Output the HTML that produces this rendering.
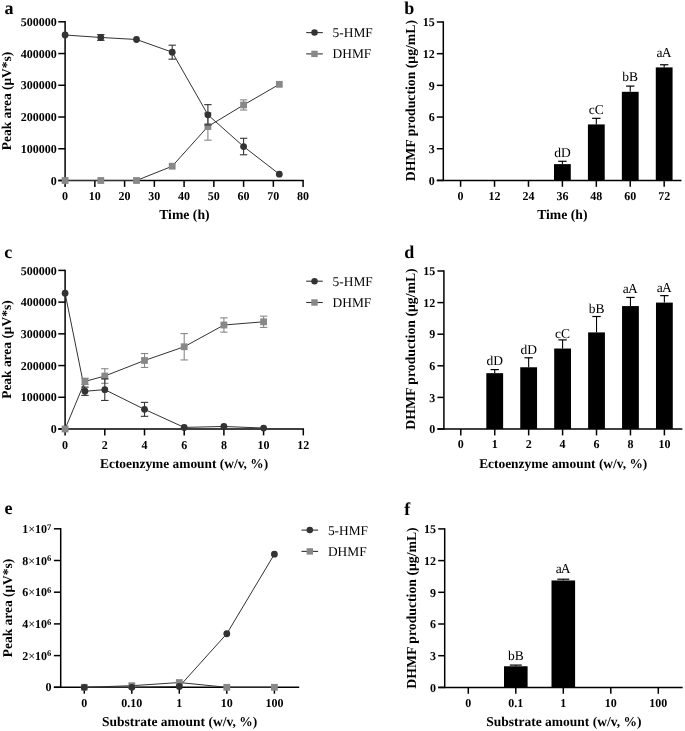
<!DOCTYPE html>
<html><head><meta charset="utf-8"><style>
html,body{margin:0;padding:0;background:#fff;}
body{width:685px;height:731px;overflow:hidden;}
svg{display:block;will-change:transform;font-family:"Liberation Serif", serif;}
text{fill:#000;text-rendering:geometricPrecision;}
</style></head><body>
<svg width="685" height="731" viewBox="0 0 685 731">
<rect width="685" height="731" fill="#fff"/>
<line x1="65.10" y1="21.10" x2="65.10" y2="181.20" stroke="#000" stroke-width="1.5"/>
<line x1="58.30" y1="180.50" x2="303.80" y2="180.50" stroke="#000" stroke-width="1.5"/>
<line x1="58.30" y1="180.50" x2="65.10" y2="180.50" stroke="#000" stroke-width="1.5"/>
<text x="56.70" y="184.50" font-size="12" font-weight="bold" text-anchor="end">0</text>
<line x1="58.30" y1="148.76" x2="65.10" y2="148.76" stroke="#000" stroke-width="1.5"/>
<text x="56.70" y="152.76" font-size="12" font-weight="bold" text-anchor="end">100000</text>
<line x1="58.30" y1="117.02" x2="65.10" y2="117.02" stroke="#000" stroke-width="1.5"/>
<text x="56.70" y="121.02" font-size="12" font-weight="bold" text-anchor="end">200000</text>
<line x1="58.30" y1="85.28" x2="65.10" y2="85.28" stroke="#000" stroke-width="1.5"/>
<text x="56.70" y="89.28" font-size="12" font-weight="bold" text-anchor="end">300000</text>
<line x1="58.30" y1="53.54" x2="65.10" y2="53.54" stroke="#000" stroke-width="1.5"/>
<text x="56.70" y="57.54" font-size="12" font-weight="bold" text-anchor="end">400000</text>
<line x1="58.30" y1="21.80" x2="65.10" y2="21.80" stroke="#000" stroke-width="1.5"/>
<text x="56.70" y="25.80" font-size="12" font-weight="bold" text-anchor="end">500000</text>
<line x1="65.10" y1="180.50" x2="65.10" y2="186.90" stroke="#000" stroke-width="1.5"/>
<text x="65.10" y="199.90" font-size="12" font-weight="bold" text-anchor="middle" >0</text>
<line x1="94.85" y1="180.50" x2="94.85" y2="186.90" stroke="#000" stroke-width="1.5"/>
<text x="94.85" y="199.90" font-size="12" font-weight="bold" text-anchor="middle" >10</text>
<line x1="124.60" y1="180.50" x2="124.60" y2="186.90" stroke="#000" stroke-width="1.5"/>
<text x="124.60" y="199.90" font-size="12" font-weight="bold" text-anchor="middle" >20</text>
<line x1="154.35" y1="180.50" x2="154.35" y2="186.90" stroke="#000" stroke-width="1.5"/>
<text x="154.35" y="199.90" font-size="12" font-weight="bold" text-anchor="middle" >30</text>
<line x1="184.10" y1="180.50" x2="184.10" y2="186.90" stroke="#000" stroke-width="1.5"/>
<text x="184.10" y="199.90" font-size="12" font-weight="bold" text-anchor="middle" >40</text>
<line x1="213.85" y1="180.50" x2="213.85" y2="186.90" stroke="#000" stroke-width="1.5"/>
<text x="213.85" y="199.90" font-size="12" font-weight="bold" text-anchor="middle" >50</text>
<line x1="243.60" y1="180.50" x2="243.60" y2="186.90" stroke="#000" stroke-width="1.5"/>
<text x="243.60" y="199.90" font-size="12" font-weight="bold" text-anchor="middle" >60</text>
<line x1="273.35" y1="180.50" x2="273.35" y2="186.90" stroke="#000" stroke-width="1.5"/>
<text x="273.35" y="199.90" font-size="12" font-weight="bold" text-anchor="middle" >70</text>
<line x1="303.10" y1="180.50" x2="303.10" y2="186.90" stroke="#000" stroke-width="1.5"/>
<text x="303.10" y="199.90" font-size="12" font-weight="bold" text-anchor="middle" >80</text>
<text x="184.40" y="218.90" font-size="13.7" font-weight="bold" text-anchor="middle" >Time (h)</text>
<text transform="translate(10.90,101.00) rotate(-90)" x="0" y="0" font-size="13.45" font-weight="bold" text-anchor="middle">Peak area (μV*s)</text>
<text x="4.50" y="13.70" font-size="18" font-weight="bold" text-anchor="start" >a</text>
<polyline points="65.10,35.00 100.80,37.48 136.50,39.48 172.20,52.18 207.90,114.80 243.60,146.54 279.30,174.15" fill="none" stroke="#333333" stroke-width="1"/>
<polyline points="65.10,180.50 100.80,180.50 136.50,180.50 172.20,166.22 207.90,126.54 243.60,104.96 279.30,84.33" fill="none" stroke="#333333" stroke-width="1"/>
<rect x="61.70" y="177.10" width="6.80" height="6.80" fill="#888888"/>
<rect x="97.40" y="177.10" width="6.80" height="6.80" fill="#888888"/>
<rect x="133.10" y="177.10" width="6.80" height="6.80" fill="#888888"/>
<rect x="168.80" y="162.82" width="6.80" height="6.80" fill="#888888"/>
<line x1="207.90" y1="112.89" x2="207.90" y2="140.19" stroke="#888888" stroke-width="1.1"/>
<line x1="204.20" y1="112.89" x2="211.60" y2="112.89" stroke="#888888" stroke-width="1.1"/>
<line x1="204.20" y1="140.19" x2="211.60" y2="140.19" stroke="#888888" stroke-width="1.1"/>
<rect x="204.50" y="123.14" width="6.80" height="6.80" fill="#888888"/>
<line x1="243.60" y1="99.88" x2="243.60" y2="110.04" stroke="#888888" stroke-width="1.1"/>
<line x1="239.90" y1="99.88" x2="247.30" y2="99.88" stroke="#888888" stroke-width="1.1"/>
<line x1="239.90" y1="110.04" x2="247.30" y2="110.04" stroke="#888888" stroke-width="1.1"/>
<rect x="240.20" y="101.56" width="6.80" height="6.80" fill="#888888"/>
<rect x="275.90" y="80.93" width="6.80" height="6.80" fill="#888888"/>
<circle cx="65.10" cy="35.00" r="3.4" fill="#333333"/>
<line x1="100.80" y1="34.62" x2="100.80" y2="40.34" stroke="#333333" stroke-width="1.1"/>
<line x1="97.10" y1="34.62" x2="104.50" y2="34.62" stroke="#333333" stroke-width="1.1"/>
<line x1="97.10" y1="40.34" x2="104.50" y2="40.34" stroke="#333333" stroke-width="1.1"/>
<circle cx="100.80" cy="37.48" r="3.4" fill="#333333"/>
<circle cx="136.50" cy="39.48" r="3.4" fill="#333333"/>
<line x1="172.20" y1="45.19" x2="172.20" y2="59.16" stroke="#333333" stroke-width="1.1"/>
<line x1="168.50" y1="45.19" x2="175.90" y2="45.19" stroke="#333333" stroke-width="1.1"/>
<line x1="168.50" y1="59.16" x2="175.90" y2="59.16" stroke="#333333" stroke-width="1.1"/>
<circle cx="172.20" cy="52.18" r="3.4" fill="#333333"/>
<line x1="207.90" y1="104.64" x2="207.90" y2="124.96" stroke="#333333" stroke-width="1.1"/>
<line x1="204.20" y1="104.64" x2="211.60" y2="104.64" stroke="#333333" stroke-width="1.1"/>
<line x1="204.20" y1="124.96" x2="211.60" y2="124.96" stroke="#333333" stroke-width="1.1"/>
<circle cx="207.90" cy="114.80" r="3.4" fill="#333333"/>
<line x1="243.60" y1="138.29" x2="243.60" y2="154.79" stroke="#333333" stroke-width="1.1"/>
<line x1="239.90" y1="138.29" x2="247.30" y2="138.29" stroke="#333333" stroke-width="1.1"/>
<line x1="239.90" y1="154.79" x2="247.30" y2="154.79" stroke="#333333" stroke-width="1.1"/>
<circle cx="243.60" cy="146.54" r="3.4" fill="#333333"/>
<circle cx="279.30" cy="174.15" r="3.4" fill="#333333"/>
<line x1="306.20" y1="32.60" x2="322.80" y2="32.60" stroke="#333333" stroke-width="1.1"/>
<circle cx="314.50" cy="32.60" r="3.25" fill="#333333"/>
<text x="332.60" y="37.10" font-size="13.4" font-weight="normal" text-anchor="start" >5-HMF</text>
<line x1="306.20" y1="53.90" x2="322.80" y2="53.90" stroke="#333333" stroke-width="1.1"/>
<rect x="311.30" y="50.70" width="6.40" height="6.40" fill="#888888"/>
<text x="332.60" y="58.40" font-size="13.4" font-weight="normal" text-anchor="start" >DHMF</text>
<line x1="65.10" y1="269.70" x2="65.10" y2="429.70" stroke="#000" stroke-width="1.5"/>
<line x1="58.30" y1="429.00" x2="304.00" y2="429.00" stroke="#000" stroke-width="1.5"/>
<line x1="58.30" y1="429.00" x2="65.10" y2="429.00" stroke="#000" stroke-width="1.5"/>
<text x="56.70" y="433.20" font-size="12" font-weight="bold" text-anchor="end">0</text>
<line x1="58.30" y1="397.28" x2="65.10" y2="397.28" stroke="#000" stroke-width="1.5"/>
<text x="56.70" y="401.48" font-size="12" font-weight="bold" text-anchor="end">100000</text>
<line x1="58.30" y1="365.56" x2="65.10" y2="365.56" stroke="#000" stroke-width="1.5"/>
<text x="56.70" y="369.76" font-size="12" font-weight="bold" text-anchor="end">200000</text>
<line x1="58.30" y1="333.84" x2="65.10" y2="333.84" stroke="#000" stroke-width="1.5"/>
<text x="56.70" y="338.04" font-size="12" font-weight="bold" text-anchor="end">300000</text>
<line x1="58.30" y1="302.12" x2="65.10" y2="302.12" stroke="#000" stroke-width="1.5"/>
<text x="56.70" y="306.32" font-size="12" font-weight="bold" text-anchor="end">400000</text>
<line x1="58.30" y1="270.40" x2="65.10" y2="270.40" stroke="#000" stroke-width="1.5"/>
<text x="56.70" y="274.60" font-size="12" font-weight="bold" text-anchor="end">500000</text>
<line x1="65.10" y1="429.00" x2="65.10" y2="435.40" stroke="#000" stroke-width="1.5"/>
<text x="65.10" y="448.70" font-size="12" font-weight="bold" text-anchor="middle" >0</text>
<line x1="104.80" y1="429.00" x2="104.80" y2="435.40" stroke="#000" stroke-width="1.5"/>
<text x="104.80" y="448.70" font-size="12" font-weight="bold" text-anchor="middle" >2</text>
<line x1="144.50" y1="429.00" x2="144.50" y2="435.40" stroke="#000" stroke-width="1.5"/>
<text x="144.50" y="448.70" font-size="12" font-weight="bold" text-anchor="middle" >4</text>
<line x1="184.20" y1="429.00" x2="184.20" y2="435.40" stroke="#000" stroke-width="1.5"/>
<text x="184.20" y="448.70" font-size="12" font-weight="bold" text-anchor="middle" >6</text>
<line x1="223.90" y1="429.00" x2="223.90" y2="435.40" stroke="#000" stroke-width="1.5"/>
<text x="223.90" y="448.70" font-size="12" font-weight="bold" text-anchor="middle" >8</text>
<line x1="263.60" y1="429.00" x2="263.60" y2="435.40" stroke="#000" stroke-width="1.5"/>
<text x="263.60" y="448.70" font-size="12" font-weight="bold" text-anchor="middle" >10</text>
<line x1="303.30" y1="429.00" x2="303.30" y2="435.40" stroke="#000" stroke-width="1.5"/>
<text x="303.30" y="448.70" font-size="12" font-weight="bold" text-anchor="middle" >12</text>
<text x="184.10" y="467.80" font-size="13.4" font-weight="bold" text-anchor="middle" >Ectoenzyme amount (w/v, %)</text>
<text transform="translate(10.90,349.60) rotate(-90)" x="0" y="0" font-size="13.45" font-weight="bold" text-anchor="middle">Peak area (μV*s)</text>
<text x="4.30" y="257.90" font-size="18" font-weight="bold" text-anchor="start" >c</text>
<polyline points="65.10,293.24 84.95,391.25 104.80,389.67 144.50,409.33 184.20,427.41 223.90,426.46 263.60,428.05" fill="none" stroke="#333333" stroke-width="1"/>
<polyline points="65.10,429.00 84.95,381.42 104.80,376.03 144.50,360.48 184.20,346.75 223.90,325.02 263.60,321.79" fill="none" stroke="#333333" stroke-width="1"/>
<rect x="61.70" y="425.60" width="6.80" height="6.80" fill="#888888"/>
<line x1="84.95" y1="378.25" x2="84.95" y2="384.59" stroke="#888888" stroke-width="1.1"/>
<line x1="81.25" y1="378.25" x2="88.65" y2="378.25" stroke="#888888" stroke-width="1.1"/>
<line x1="81.25" y1="384.59" x2="88.65" y2="384.59" stroke="#888888" stroke-width="1.1"/>
<rect x="81.55" y="378.02" width="6.80" height="6.80" fill="#888888"/>
<line x1="104.80" y1="368.73" x2="104.80" y2="383.32" stroke="#888888" stroke-width="1.1"/>
<line x1="101.10" y1="368.73" x2="108.50" y2="368.73" stroke="#888888" stroke-width="1.1"/>
<line x1="101.10" y1="383.32" x2="108.50" y2="383.32" stroke="#888888" stroke-width="1.1"/>
<rect x="101.40" y="372.63" width="6.80" height="6.80" fill="#888888"/>
<line x1="144.50" y1="353.51" x2="144.50" y2="367.46" stroke="#888888" stroke-width="1.1"/>
<line x1="140.80" y1="353.51" x2="148.20" y2="353.51" stroke="#888888" stroke-width="1.1"/>
<line x1="140.80" y1="367.46" x2="148.20" y2="367.46" stroke="#888888" stroke-width="1.1"/>
<rect x="141.10" y="357.08" width="6.80" height="6.80" fill="#888888"/>
<line x1="184.20" y1="333.55" x2="184.20" y2="359.95" stroke="#888888" stroke-width="1.1"/>
<line x1="180.50" y1="333.55" x2="187.90" y2="333.55" stroke="#888888" stroke-width="1.1"/>
<line x1="180.50" y1="359.95" x2="187.90" y2="359.95" stroke="#888888" stroke-width="1.1"/>
<rect x="180.80" y="343.35" width="6.80" height="6.80" fill="#888888"/>
<line x1="223.90" y1="317.88" x2="223.90" y2="332.16" stroke="#888888" stroke-width="1.1"/>
<line x1="220.20" y1="317.88" x2="227.60" y2="317.88" stroke="#888888" stroke-width="1.1"/>
<line x1="220.20" y1="332.16" x2="227.60" y2="332.16" stroke="#888888" stroke-width="1.1"/>
<rect x="220.50" y="321.62" width="6.80" height="6.80" fill="#888888"/>
<line x1="263.60" y1="316.17" x2="263.60" y2="327.40" stroke="#888888" stroke-width="1.1"/>
<line x1="259.90" y1="316.17" x2="267.30" y2="316.17" stroke="#888888" stroke-width="1.1"/>
<line x1="259.90" y1="327.40" x2="267.30" y2="327.40" stroke="#888888" stroke-width="1.1"/>
<rect x="260.20" y="318.39" width="6.80" height="6.80" fill="#888888"/>
<circle cx="65.10" cy="293.24" r="3.4" fill="#333333"/>
<line x1="84.95" y1="387.13" x2="84.95" y2="395.38" stroke="#333333" stroke-width="1.1"/>
<line x1="81.25" y1="387.13" x2="88.65" y2="387.13" stroke="#333333" stroke-width="1.1"/>
<line x1="81.25" y1="395.38" x2="88.65" y2="395.38" stroke="#333333" stroke-width="1.1"/>
<circle cx="84.95" cy="391.25" r="3.4" fill="#333333"/>
<line x1="104.80" y1="378.88" x2="104.80" y2="400.45" stroke="#333333" stroke-width="1.1"/>
<line x1="101.10" y1="378.88" x2="108.50" y2="378.88" stroke="#333333" stroke-width="1.1"/>
<line x1="101.10" y1="400.45" x2="108.50" y2="400.45" stroke="#333333" stroke-width="1.1"/>
<circle cx="104.80" cy="389.67" r="3.4" fill="#333333"/>
<line x1="144.50" y1="402.36" x2="144.50" y2="416.31" stroke="#333333" stroke-width="1.1"/>
<line x1="140.80" y1="402.36" x2="148.20" y2="402.36" stroke="#333333" stroke-width="1.1"/>
<line x1="140.80" y1="416.31" x2="148.20" y2="416.31" stroke="#333333" stroke-width="1.1"/>
<circle cx="144.50" cy="409.33" r="3.4" fill="#333333"/>
<circle cx="184.20" cy="427.41" r="3.4" fill="#333333"/>
<circle cx="223.90" cy="426.46" r="3.4" fill="#333333"/>
<circle cx="263.60" cy="428.05" r="3.4" fill="#333333"/>
<line x1="306.20" y1="281.20" x2="322.80" y2="281.20" stroke="#333333" stroke-width="1.1"/>
<circle cx="314.50" cy="281.20" r="3.25" fill="#333333"/>
<text x="332.60" y="285.70" font-size="13.4" font-weight="normal" text-anchor="start" >5-HMF</text>
<line x1="306.20" y1="302.50" x2="322.80" y2="302.50" stroke="#333333" stroke-width="1.1"/>
<rect x="311.30" y="299.30" width="6.40" height="6.40" fill="#888888"/>
<text x="332.60" y="307.00" font-size="13.4" font-weight="normal" text-anchor="start" >DHMF</text>
<line x1="60.70" y1="528.10" x2="60.70" y2="688.00" stroke="#000" stroke-width="1.5"/>
<line x1="53.90" y1="687.30" x2="299.20" y2="687.30" stroke="#000" stroke-width="1.5"/>
<line x1="53.90" y1="687.30" x2="60.70" y2="687.30" stroke="#000" stroke-width="1.5"/>
<text x="51.40" y="691.30" font-size="12" font-weight="bold" text-anchor="end">0</text>
<line x1="53.90" y1="655.60" x2="60.70" y2="655.60" stroke="#000" stroke-width="1.5"/>
<text x="51.40" y="659.60" font-size="12" font-weight="bold" text-anchor="end">2<tspan font-weight="normal">×</tspan>10<tspan dy="-3.3" font-size="8.6">6</tspan></text>
<line x1="53.90" y1="623.90" x2="60.70" y2="623.90" stroke="#000" stroke-width="1.5"/>
<text x="51.40" y="627.90" font-size="12" font-weight="bold" text-anchor="end">4<tspan font-weight="normal">×</tspan>10<tspan dy="-3.3" font-size="8.6">6</tspan></text>
<line x1="53.90" y1="592.20" x2="60.70" y2="592.20" stroke="#000" stroke-width="1.5"/>
<text x="51.40" y="596.20" font-size="12" font-weight="bold" text-anchor="end">6<tspan font-weight="normal">×</tspan>10<tspan dy="-3.3" font-size="8.6">6</tspan></text>
<line x1="53.90" y1="560.50" x2="60.70" y2="560.50" stroke="#000" stroke-width="1.5"/>
<text x="51.40" y="564.50" font-size="12" font-weight="bold" text-anchor="end">8<tspan font-weight="normal">×</tspan>10<tspan dy="-3.3" font-size="8.6">6</tspan></text>
<line x1="53.90" y1="528.80" x2="60.70" y2="528.80" stroke="#000" stroke-width="1.5"/>
<text x="51.40" y="532.80" font-size="12" font-weight="bold" text-anchor="end">1<tspan font-weight="normal">×</tspan>10<tspan dy="-3.3" font-size="8.6">7</tspan></text>
<line x1="84.30" y1="687.30" x2="84.30" y2="693.70" stroke="#000" stroke-width="1.5"/>
<text x="84.30" y="706.70" font-size="12" font-weight="bold" text-anchor="middle" >0</text>
<line x1="131.80" y1="687.30" x2="131.80" y2="693.70" stroke="#000" stroke-width="1.5"/>
<text x="131.80" y="706.70" font-size="12" font-weight="bold" text-anchor="middle" >0.10</text>
<line x1="179.30" y1="687.30" x2="179.30" y2="693.70" stroke="#000" stroke-width="1.5"/>
<text x="179.30" y="706.70" font-size="12" font-weight="bold" text-anchor="middle" >1</text>
<line x1="226.80" y1="687.30" x2="226.80" y2="693.70" stroke="#000" stroke-width="1.5"/>
<text x="226.80" y="706.70" font-size="12" font-weight="bold" text-anchor="middle" >10</text>
<line x1="274.40" y1="687.30" x2="274.40" y2="693.70" stroke="#000" stroke-width="1.5"/>
<text x="274.40" y="706.70" font-size="12" font-weight="bold" text-anchor="middle" >100</text>
<text x="179.60" y="725.90" font-size="13.5" font-weight="bold" text-anchor="middle" >Substrate amount (w/v, %)</text>
<text transform="translate(11.80,608.00) rotate(-90)" x="0" y="0" font-size="13.45" font-weight="bold" text-anchor="middle">Peak area (μV*s)</text>
<text x="4.50" y="514.30" font-size="18" font-weight="bold" text-anchor="start" >e</text>
<polyline points="84.30,687.30 131.80,685.71 179.30,682.54 226.80,687.30 274.40,687.30" fill="none" stroke="#333333" stroke-width="1"/>
<polyline points="84.30,687.30 131.80,687.30 179.30,686.51 226.80,633.73 274.40,554.16" fill="none" stroke="#333333" stroke-width="1"/>
<rect x="80.90" y="683.90" width="6.80" height="6.80" fill="#888888"/>
<rect x="128.40" y="682.31" width="6.80" height="6.80" fill="#888888"/>
<rect x="175.90" y="679.14" width="6.80" height="6.80" fill="#888888"/>
<rect x="223.40" y="683.90" width="6.80" height="6.80" fill="#888888"/>
<rect x="271.00" y="683.90" width="6.80" height="6.80" fill="#888888"/>
<circle cx="84.30" cy="687.30" r="3.4" fill="#333333"/>
<circle cx="131.80" cy="687.30" r="3.4" fill="#333333"/>
<circle cx="179.30" cy="686.51" r="3.4" fill="#333333"/>
<circle cx="226.80" cy="633.73" r="3.4" fill="#333333"/>
<circle cx="274.40" cy="554.16" r="3.4" fill="#333333"/>
<line x1="301.50" y1="530.10" x2="318.10" y2="530.10" stroke="#333333" stroke-width="1.1"/>
<circle cx="309.80" cy="530.10" r="3.25" fill="#333333"/>
<text x="327.90" y="534.60" font-size="13.4" font-weight="normal" text-anchor="start" >5-HMF</text>
<line x1="301.50" y1="551.40" x2="318.10" y2="551.40" stroke="#333333" stroke-width="1.1"/>
<rect x="306.60" y="548.20" width="6.40" height="6.40" fill="#888888"/>
<text x="327.90" y="555.90" font-size="13.4" font-weight="normal" text-anchor="start" >DHMF</text>
<line x1="443.30" y1="21.30" x2="443.30" y2="181.10" stroke="#000" stroke-width="1.5"/>
<line x1="436.80" y1="180.40" x2="681.50" y2="180.40" stroke="#000" stroke-width="1.5"/>
<line x1="436.80" y1="180.40" x2="443.30" y2="180.40" stroke="#000" stroke-width="1.5"/>
<text x="434.70" y="184.60" font-size="12" font-weight="bold" text-anchor="end">0</text>
<line x1="436.80" y1="148.72" x2="443.30" y2="148.72" stroke="#000" stroke-width="1.5"/>
<text x="434.70" y="152.92" font-size="12" font-weight="bold" text-anchor="end">3</text>
<line x1="436.80" y1="117.04" x2="443.30" y2="117.04" stroke="#000" stroke-width="1.5"/>
<text x="434.70" y="121.24" font-size="12" font-weight="bold" text-anchor="end">6</text>
<line x1="436.80" y1="85.36" x2="443.30" y2="85.36" stroke="#000" stroke-width="1.5"/>
<text x="434.70" y="89.56" font-size="12" font-weight="bold" text-anchor="end">9</text>
<line x1="436.80" y1="53.68" x2="443.30" y2="53.68" stroke="#000" stroke-width="1.5"/>
<text x="434.70" y="57.88" font-size="12" font-weight="bold" text-anchor="end">12</text>
<line x1="436.80" y1="22.00" x2="443.30" y2="22.00" stroke="#000" stroke-width="1.5"/>
<text x="434.70" y="26.20" font-size="12" font-weight="bold" text-anchor="end">15</text>
<line x1="460.60" y1="180.40" x2="460.60" y2="186.80" stroke="#000" stroke-width="1.5"/>
<text x="460.60" y="199.60" font-size="12" font-weight="bold" text-anchor="middle" >0</text>
<line x1="494.53" y1="180.40" x2="494.53" y2="186.80" stroke="#000" stroke-width="1.5"/>
<text x="494.53" y="199.60" font-size="12" font-weight="bold" text-anchor="middle" >12</text>
<line x1="528.46" y1="180.40" x2="528.46" y2="186.80" stroke="#000" stroke-width="1.5"/>
<text x="528.46" y="199.60" font-size="12" font-weight="bold" text-anchor="middle" >24</text>
<line x1="562.39" y1="180.40" x2="562.39" y2="186.80" stroke="#000" stroke-width="1.5"/>
<text x="562.39" y="199.60" font-size="12" font-weight="bold" text-anchor="middle" >36</text>
<line x1="596.32" y1="180.40" x2="596.32" y2="186.80" stroke="#000" stroke-width="1.5"/>
<text x="596.32" y="199.60" font-size="12" font-weight="bold" text-anchor="middle" >48</text>
<line x1="630.25" y1="180.40" x2="630.25" y2="186.80" stroke="#000" stroke-width="1.5"/>
<text x="630.25" y="199.60" font-size="12" font-weight="bold" text-anchor="middle" >60</text>
<line x1="664.18" y1="180.40" x2="664.18" y2="186.80" stroke="#000" stroke-width="1.5"/>
<text x="664.18" y="199.60" font-size="12" font-weight="bold" text-anchor="middle" >72</text>
<rect x="553.99" y="164.14" width="16.80" height="16.26" fill="#000"/>
<line x1="562.39" y1="161.29" x2="562.39" y2="164.14" stroke="#000" stroke-width="1.1"/>
<line x1="558.19" y1="161.29" x2="566.59" y2="161.29" stroke="#000" stroke-width="1.2"/>
<text x="562.39" y="156.60" font-size="13.5" font-weight="normal" text-anchor="middle" >dD</text>
<rect x="587.92" y="124.43" width="16.80" height="55.97" fill="#000"/>
<line x1="596.32" y1="118.31" x2="596.32" y2="124.43" stroke="#000" stroke-width="1.1"/>
<line x1="592.12" y1="118.31" x2="600.52" y2="118.31" stroke="#000" stroke-width="1.2"/>
<text x="596.32" y="113.70" font-size="13.5" font-weight="normal" text-anchor="middle" >cC</text>
<rect x="621.85" y="91.80" width="16.80" height="88.60" fill="#000"/>
<line x1="630.25" y1="86.10" x2="630.25" y2="91.80" stroke="#000" stroke-width="1.1"/>
<line x1="626.05" y1="86.10" x2="634.45" y2="86.10" stroke="#000" stroke-width="1.2"/>
<text x="630.25" y="80.60" font-size="13.5" font-weight="normal" text-anchor="middle" >bB</text>
<rect x="655.78" y="67.41" width="16.80" height="112.99" fill="#000"/>
<line x1="664.18" y1="64.77" x2="664.18" y2="67.41" stroke="#000" stroke-width="1.1"/>
<line x1="659.98" y1="64.77" x2="668.38" y2="64.77" stroke="#000" stroke-width="1.2"/>
<text x="663.58" y="57.00" font-size="13.5" font-weight="normal" text-anchor="middle" letter-spacing="-0.9">aA</text>
<text x="562.30" y="218.90" font-size="13.7" font-weight="bold" text-anchor="middle" >Time (h)</text>
<text transform="translate(414.70,100.60) rotate(-90)" x="0" y="0" font-size="13.75" font-weight="bold" text-anchor="middle">DHMF production (μg/mL)</text>
<text x="404.30" y="13.70" font-size="18" font-weight="bold" text-anchor="start" >b</text>
<line x1="443.90" y1="270.30" x2="443.90" y2="429.70" stroke="#000" stroke-width="1.5"/>
<line x1="437.40" y1="429.00" x2="682.40" y2="429.00" stroke="#000" stroke-width="1.5"/>
<line x1="437.40" y1="429.00" x2="443.90" y2="429.00" stroke="#000" stroke-width="1.5"/>
<text x="435.30" y="433.20" font-size="12" font-weight="bold" text-anchor="end">0</text>
<line x1="437.40" y1="397.40" x2="443.90" y2="397.40" stroke="#000" stroke-width="1.5"/>
<text x="435.30" y="401.60" font-size="12" font-weight="bold" text-anchor="end">3</text>
<line x1="437.40" y1="365.80" x2="443.90" y2="365.80" stroke="#000" stroke-width="1.5"/>
<text x="435.30" y="370.00" font-size="12" font-weight="bold" text-anchor="end">6</text>
<line x1="437.40" y1="334.20" x2="443.90" y2="334.20" stroke="#000" stroke-width="1.5"/>
<text x="435.30" y="338.40" font-size="12" font-weight="bold" text-anchor="end">9</text>
<line x1="437.40" y1="302.60" x2="443.90" y2="302.60" stroke="#000" stroke-width="1.5"/>
<text x="435.30" y="306.80" font-size="12" font-weight="bold" text-anchor="end">12</text>
<line x1="437.40" y1="271.00" x2="443.90" y2="271.00" stroke="#000" stroke-width="1.5"/>
<text x="435.30" y="275.20" font-size="12" font-weight="bold" text-anchor="end">15</text>
<line x1="460.80" y1="429.00" x2="460.80" y2="435.40" stroke="#000" stroke-width="1.5"/>
<text x="460.80" y="448.20" font-size="12" font-weight="bold" text-anchor="middle" >0</text>
<line x1="494.73" y1="429.00" x2="494.73" y2="435.40" stroke="#000" stroke-width="1.5"/>
<text x="494.73" y="448.20" font-size="12" font-weight="bold" text-anchor="middle" >1</text>
<line x1="528.66" y1="429.00" x2="528.66" y2="435.40" stroke="#000" stroke-width="1.5"/>
<text x="528.66" y="448.20" font-size="12" font-weight="bold" text-anchor="middle" >2</text>
<line x1="562.59" y1="429.00" x2="562.59" y2="435.40" stroke="#000" stroke-width="1.5"/>
<text x="562.59" y="448.20" font-size="12" font-weight="bold" text-anchor="middle" >4</text>
<line x1="596.52" y1="429.00" x2="596.52" y2="435.40" stroke="#000" stroke-width="1.5"/>
<text x="596.52" y="448.20" font-size="12" font-weight="bold" text-anchor="middle" >6</text>
<line x1="630.45" y1="429.00" x2="630.45" y2="435.40" stroke="#000" stroke-width="1.5"/>
<text x="630.45" y="448.20" font-size="12" font-weight="bold" text-anchor="middle" >8</text>
<line x1="664.38" y1="429.00" x2="664.38" y2="435.40" stroke="#000" stroke-width="1.5"/>
<text x="664.38" y="448.20" font-size="12" font-weight="bold" text-anchor="middle" >10</text>
<rect x="486.33" y="373.17" width="16.80" height="55.83" fill="#000"/>
<line x1="494.73" y1="369.59" x2="494.73" y2="373.17" stroke="#000" stroke-width="1.1"/>
<line x1="490.53" y1="369.59" x2="498.93" y2="369.59" stroke="#000" stroke-width="1.2"/>
<text x="494.73" y="364.90" font-size="13.5" font-weight="normal" text-anchor="middle" >dD</text>
<rect x="520.26" y="367.27" width="16.80" height="61.73" fill="#000"/>
<line x1="528.66" y1="357.79" x2="528.66" y2="367.27" stroke="#000" stroke-width="1.1"/>
<line x1="524.46" y1="357.79" x2="532.86" y2="357.79" stroke="#000" stroke-width="1.2"/>
<text x="528.66" y="353.70" font-size="13.5" font-weight="normal" text-anchor="middle" >dD</text>
<rect x="554.19" y="348.53" width="16.80" height="80.47" fill="#000"/>
<line x1="562.59" y1="339.89" x2="562.59" y2="348.53" stroke="#000" stroke-width="1.1"/>
<line x1="558.39" y1="339.89" x2="566.79" y2="339.89" stroke="#000" stroke-width="1.2"/>
<text x="562.59" y="337.90" font-size="13.5" font-weight="normal" text-anchor="middle" >cC</text>
<rect x="588.12" y="332.41" width="16.80" height="96.59" fill="#000"/>
<line x1="596.52" y1="316.50" x2="596.52" y2="332.41" stroke="#000" stroke-width="1.1"/>
<line x1="592.32" y1="316.50" x2="600.72" y2="316.50" stroke="#000" stroke-width="1.2"/>
<text x="596.52" y="312.50" font-size="13.5" font-weight="normal" text-anchor="middle" >bB</text>
<rect x="622.05" y="306.08" width="16.80" height="122.92" fill="#000"/>
<line x1="630.45" y1="297.44" x2="630.45" y2="306.08" stroke="#000" stroke-width="1.1"/>
<line x1="626.25" y1="297.44" x2="634.65" y2="297.44" stroke="#000" stroke-width="1.2"/>
<text x="629.85" y="293.20" font-size="13.5" font-weight="normal" text-anchor="middle" letter-spacing="-0.9">aA</text>
<rect x="655.98" y="302.60" width="16.80" height="126.40" fill="#000"/>
<line x1="664.38" y1="295.65" x2="664.38" y2="302.60" stroke="#000" stroke-width="1.1"/>
<line x1="660.18" y1="295.65" x2="668.58" y2="295.65" stroke="#000" stroke-width="1.2"/>
<text x="663.78" y="292.10" font-size="13.5" font-weight="normal" text-anchor="middle" letter-spacing="-0.9">aA</text>
<text x="563.20" y="467.80" font-size="13.4" font-weight="bold" text-anchor="middle" >Ectoenzyme amount (w/v, %)</text>
<text transform="translate(415.40,349.00) rotate(-90)" x="0" y="0" font-size="13.75" font-weight="bold" text-anchor="middle">DHMF production (μg/mL)</text>
<text x="404.30" y="258.30" font-size="18" font-weight="bold" text-anchor="start" >d</text>
<line x1="444.70" y1="528.20" x2="444.70" y2="688.10" stroke="#000" stroke-width="1.5"/>
<line x1="438.20" y1="687.40" x2="682.70" y2="687.40" stroke="#000" stroke-width="1.5"/>
<line x1="438.20" y1="687.40" x2="444.70" y2="687.40" stroke="#000" stroke-width="1.5"/>
<text x="436.10" y="691.60" font-size="12" font-weight="bold" text-anchor="end">0</text>
<line x1="438.20" y1="655.70" x2="444.70" y2="655.70" stroke="#000" stroke-width="1.5"/>
<text x="436.10" y="659.90" font-size="12" font-weight="bold" text-anchor="end">3</text>
<line x1="438.20" y1="624.00" x2="444.70" y2="624.00" stroke="#000" stroke-width="1.5"/>
<text x="436.10" y="628.20" font-size="12" font-weight="bold" text-anchor="end">6</text>
<line x1="438.20" y1="592.30" x2="444.70" y2="592.30" stroke="#000" stroke-width="1.5"/>
<text x="436.10" y="596.50" font-size="12" font-weight="bold" text-anchor="end">9</text>
<line x1="438.20" y1="560.60" x2="444.70" y2="560.60" stroke="#000" stroke-width="1.5"/>
<text x="436.10" y="564.80" font-size="12" font-weight="bold" text-anchor="end">12</text>
<line x1="438.20" y1="528.90" x2="444.70" y2="528.90" stroke="#000" stroke-width="1.5"/>
<text x="436.10" y="533.10" font-size="12" font-weight="bold" text-anchor="end">15</text>
<line x1="468.30" y1="687.40" x2="468.30" y2="693.80" stroke="#000" stroke-width="1.5"/>
<text x="468.30" y="706.60" font-size="12" font-weight="bold" text-anchor="middle" >0</text>
<line x1="515.80" y1="687.40" x2="515.80" y2="693.80" stroke="#000" stroke-width="1.5"/>
<text x="515.80" y="706.60" font-size="12" font-weight="bold" text-anchor="middle" >0.1</text>
<line x1="563.30" y1="687.40" x2="563.30" y2="693.80" stroke="#000" stroke-width="1.5"/>
<text x="563.30" y="706.60" font-size="12" font-weight="bold" text-anchor="middle" >1</text>
<line x1="610.80" y1="687.40" x2="610.80" y2="693.80" stroke="#000" stroke-width="1.5"/>
<text x="610.80" y="706.60" font-size="12" font-weight="bold" text-anchor="middle" >10</text>
<line x1="658.30" y1="687.40" x2="658.30" y2="693.80" stroke="#000" stroke-width="1.5"/>
<text x="658.30" y="706.60" font-size="12" font-weight="bold" text-anchor="middle" >100</text>
<rect x="504.00" y="666.27" width="23.60" height="21.13" fill="#000"/>
<line x1="515.80" y1="665.10" x2="515.80" y2="666.27" stroke="#000" stroke-width="1.1"/>
<line x1="509.80" y1="665.10" x2="521.80" y2="665.10" stroke="#000" stroke-width="1.2"/>
<text x="515.80" y="660.00" font-size="13.5" font-weight="normal" text-anchor="middle" >bB</text>
<rect x="551.50" y="580.47" width="23.60" height="106.93" fill="#000"/>
<line x1="563.30" y1="579.20" x2="563.30" y2="580.47" stroke="#000" stroke-width="1.1"/>
<line x1="557.30" y1="579.20" x2="569.30" y2="579.20" stroke="#000" stroke-width="1.2"/>
<text x="562.70" y="572.90" font-size="13.5" font-weight="normal" text-anchor="middle" letter-spacing="-0.9">aA</text>
<text x="563.80" y="725.80" font-size="13.5" font-weight="bold" text-anchor="middle" >Substrate amount (w/v, %)</text>
<text transform="translate(416.00,608.00) rotate(-90)" x="0" y="0" font-size="13.75" font-weight="bold" text-anchor="middle">DHMF production (μg/mL)</text>
<text x="404.30" y="514.60" font-size="18" font-weight="bold" text-anchor="start" >f</text>
</svg>
</body></html>
